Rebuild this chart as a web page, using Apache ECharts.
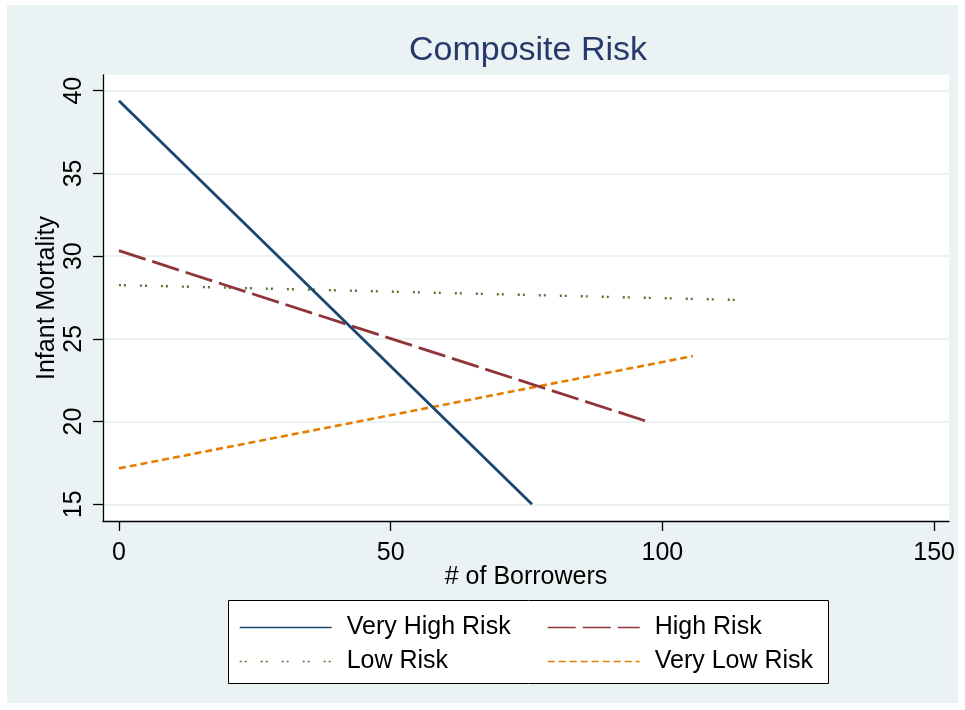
<!DOCTYPE html>
<html>
<head>
<meta charset="utf-8">
<script src="https://cdn.jsdelivr.net/npm/echarts@6/dist/echarts.min.js"></script>
<style>
html,body{margin:0;padding:0;background:#ffffff;width:965px;height:710px;overflow:hidden;}
#chart{position:absolute;left:7px;top:5px;width:951px;height:698px;}
</style>
</head>
<body>
<div id="chart"></div>
<script>
// ---- data ----
const titleText = 'Composite Risk';
const seriesNames = ['Very High Risk', 'High Risk', 'Low Risk', 'Very Low Risk'];
const veryHighX = [0, 76.0];
const veryHighY = [39.4, 15.0];
const highX = [0, 96.8];
const highY = [30.33, 20.05];
const lowX = [0, 113.8];
const lowY = [28.25, 27.35];
const veryLowX = [0, 105.6];
const veryLowY = [17.17, 23.96];
const xTicks = [0, 50, 100, 150];
const yTicks = [15, 20, 25, 30, 35, 40];
const xAxisName = '# of Borrowers';
const yAxisName = 'Infant Mortality';
const legendColumn1 = ['Very High Risk', 'Low Risk'];
const legendColumn2 = ['High Risk', 'Very Low Risk'];

// ---- styles ----
const colors = ['#1a476f', '#90353b', '#55752f', '#e37e00'];
const widths = [2.8, 2.8, 2.4, 2.6];
const dashes = ['solid', [28, 7], [2, 3, 2, 14], [7, 4]];
const FONT = '"Liberation Sans", Arial, sans-serif';
const FS = 25;

function pairs(xs, ys) { return xs.map((x, i) => [x, ys[i]]); }
const dataSets = [pairs(veryHighX, veryHighY), pairs(highX, highY), pairs(lowX, lowY), pairs(veryLowX, veryLowY)];

const chart = echarts.init(document.getElementById('chart'), null, { renderer: 'canvas' });
const axisLineStyle = { color: '#000000', width: 1.3 };

function legendAt(names, left) {
  return {
    data: names,
    left: left, top: 610,
    orient: 'vertical',
    itemWidth: 92, itemHeight: 30, itemGap: 9,
    padding: 0,
    backgroundColor: 'transparent',
    borderWidth: 0,
    lineStyle: { width: 1.4 },
    itemStyle: { opacity: 0 },
    z: 10,
    textStyle: { fontSize: FS, color: '#000000', fontFamily: FONT, padding: [0, 0, 0, 10] }
  };
}

chart.setOption({
  animation: false,
  backgroundColor: '#eaf2f3',
  textStyle: { fontFamily: FONT },
  title: {
    text: titleText,
    left: 521,
    textAlign: 'center',
    top: 29,
    padding: 0,
    textStyle: { fontSize: 34, fontWeight: 'normal', color: '#26396a', fontFamily: FONT }
  },
  graphic: [{
    type: 'rect',
    z: 1,
    silent: true,
    shape: { x: 221.5, y: 595.5, width: 600, height: 83 },
    style: { fill: '#ffffff', stroke: '#000000', lineWidth: 1 }
  }],
  grid: {
    left: 96, top: 70, right: 5, bottom: 182,
    show: true, backgroundColor: '#ffffff', borderWidth: 0
  },
  legend: [legendAt(legendColumn1, 232), legendAt(legendColumn2, 540)],
  xAxis: {
    type: 'value',
    min: -2.93, max: 152.74,
    axisLine: { show: true, onZero: false, lineStyle: axisLineStyle },
    axisTick: { show: true, length: 10, customValues: xTicks, lineStyle: axisLineStyle },
    axisLabel: { customValues: xTicks, margin: 20, fontSize: FS, color: '#000000', fontFamily: FONT },
    splitLine: { show: false },
    name: xAxisName, nameLocation: 'middle', nameGap: 44, nameMoveOverlap: false,
    nameTextStyle: { fontSize: FS, color: '#000000', fontFamily: FONT }
  },
  yAxis: {
    type: 'value',
    min: 13.99, max: 40.95,
    axisLine: { show: true, onZero: false, lineStyle: axisLineStyle },
    axisTick: { show: true, length: 10, customValues: yTicks, lineStyle: axisLineStyle },
    axisLabel: { customValues: yTicks, rotate: 90, margin: 16, fontSize: FS, color: '#000000', fontFamily: FONT },
    splitLine: { show: true, lineStyle: { color: '#eaf2f3', width: 2 } },
    name: yAxisName, nameLocation: 'middle', nameGap: 43, nameMoveOverlap: false,
    nameTextStyle: { fontSize: FS, color: '#000000', fontFamily: FONT }
  },
  series: seriesNames.map((name, i) => ({
    name: name,
    type: 'line',
    data: dataSets[i],
    symbol: 'none',
    showSymbol: false,
    itemStyle: { color: colors[i] },
    lineStyle: { color: colors[i], width: widths[i], type: dashes[i], cap: 'butt' },
    z: 10 - i
  }))
});
</script>
</body>
</html>
